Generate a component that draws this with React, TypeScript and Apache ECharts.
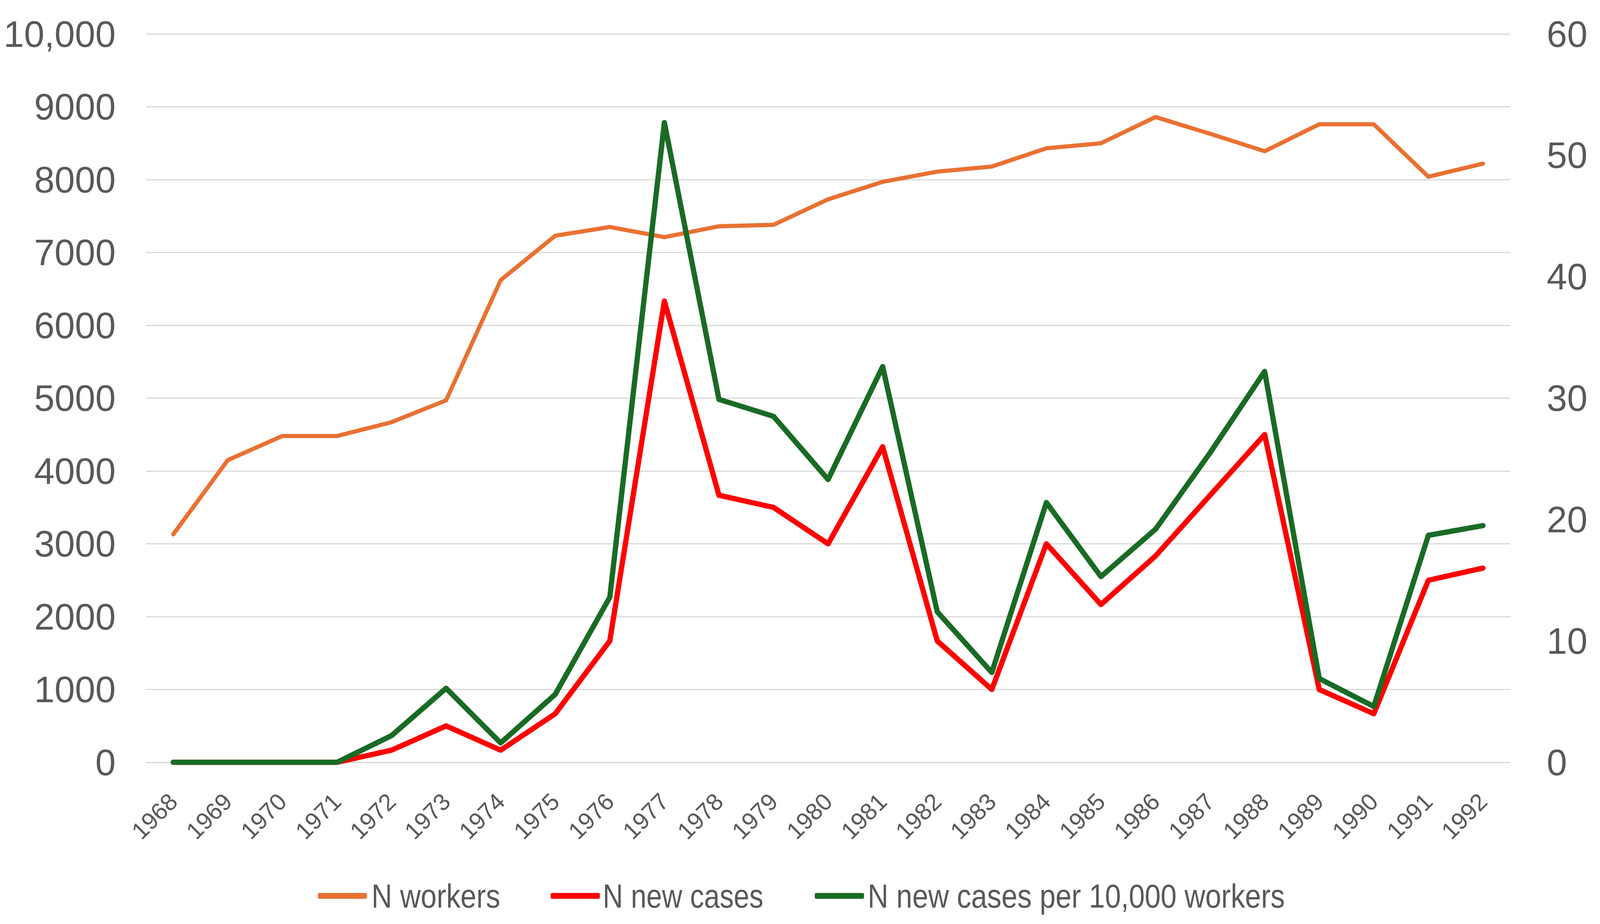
import React, { useEffect, useRef } from "react";
import * as echarts from "echarts";

const years = [
  "1968", "1969", "1970", "1971", "1972", "1973", "1974", "1975", "1976", "1977",
  "1978", "1979", "1980", "1981", "1982", "1983", "1984", "1985", "1986", "1987",
  "1988", "1989", "1990", "1991", "1992",
];
const nWorkers = [
  3130, 4150, 4480, 4480, 4670, 4970, 6620, 7230, 7350, 7210,
  7360, 7380, 7730, 7970, 8110, 8180, 8430, 8500, 8860, 8630,
  8390, 8760, 8760, 8040, 8220,
];
const nNewCases = [
  0, 0, 0, 0, 1, 3, 1, 4, 10, 38,
  22, 21, 18, 26, 10, 6, 18, 13, 17, 22,
  27, 6, 4, 15, 16,
];
const casesPer10k = [
  0, 0, 0, 0, 2.2, 6.1, 1.6, 5.6, 13.6, 52.7,
  29.9, 28.5, 23.3, 32.6, 12.4, 7.4, 21.4, 15.3, 19.2, 25.5,
  32.2, 6.9, 4.6, 18.7, 19.5,
];
const seriesNames = ["N workers", "N new cases", "N new cases per 10,000 workers"];
const seriesColors = ["#E97132", "#FF0000", "#196B24"];

// reference layout (in the reference's 4385 x 2366 pixel space)
const REF_W = 4385;
const REF_H = 2366;
const legendIconX = [871, 1509, 2233];
const legendTextX = [1018, 1652, 2378];
const legendTextW = [353, 440, 1144];

const TEXT = "#595959";
const FONT = "'Liberation Sans', Arial, sans-serif";

function measure(text: string, size: number): number {
  const c = document.createElement("canvas").getContext("2d");
  if (!c) return text.length * size * 0.5;
  c.font = `${size}px "Liberation Sans", Arial, sans-serif`;
  return c.measureText(text).width;
}

export default function App() {
  const ref = useRef<HTMLDivElement>(null);
  const W = window.innerWidth || REF_W;
  const H = window.innerHeight || REF_H;
  useEffect(() => {
    if (!ref.current) return;
    const sx = W / REF_W;
    const sy = H / REF_H;
    const fs = (sx + sy) / 2;
    const chart = echarts.init(ref.current, undefined, { renderer: "svg" });
    const lineBase = { type: "line", symbol: "none", smooth: false };

    const legendY = 2294 * sy;
    const legendFont = 86 * sy;
    const legendGraphics: any[] = [];
    seriesNames.forEach((name, i) => {
      legendGraphics.push({
        type: "rect",
        shape: { x: legendIconX[i] * sx, y: legendY - 7.5 * sy, width: 135 * sx, height: 15 * sy, r: 4 },
        style: { fill: seriesColors[i] },
      });
      const k = (legendTextW[i] * sx) / measure(name, legendFont);
      legendGraphics.push({
        type: "text",
        x: legendTextX[i] * sx,
        y: legendY,
        scaleX: k,
        style: {
          text: name,
          fontSize: legendFont,
          fontFamily: FONT,
          fill: TEXT,
          align: "left",
          verticalAlign: "middle",
        },
      });
    });

    chart.setOption({
      animation: false,
      backgroundColor: "#ffffff",
      graphic: legendGraphics,
      grid: {
        left: 400 * sx,
        right: 246 * sx,
        top: 87 * sy,
        bottom: 414 * sy,
        containLabel: false,
      },
      xAxis: {
        type: "category",
        data: years,
        boundaryGap: true,
        axisLine: { show: false },
        axisTick: { show: false },
        axisLabel: {
          rotate: 45,
          interval: 0,
          margin: 90 * sy,
          fontSize: 63 * fs,
          color: TEXT,
          fontFamily: FONT,
        },
      },
      yAxis: [
        {
          type: "value",
          min: 0,
          max: 10000,
          interval: 1000,
          position: "left",
          axisLine: { show: false },
          axisTick: { show: false },
          splitLine: { show: true, lineStyle: { color: "#D9D9D9", width: 3 } },
          axisLabel: {
            margin: 83 * sx,
            fontSize: 97 * fs,
            color: TEXT,
            fontFamily: FONT,
            formatter: (v: number) => (v >= 10000 ? "10,000" : String(v)),
          },
        },
        {
          type: "value",
          min: 0,
          max: 60,
          interval: 10,
          position: "right",
          axisLine: { show: false },
          axisTick: { show: false },
          splitLine: { show: false },
          axisLabel: { margin: 100 * sx, fontSize: 97 * fs, color: TEXT, fontFamily: FONT },
        },
      ],
      series: [
        {
          ...lineBase,
          name: seriesNames[0],
          yAxisIndex: 0,
          data: nWorkers,
          color: seriesColors[0],
          lineStyle: { color: seriesColors[0], width: 11 * fs, cap: "round", join: "round" },
        },
        {
          ...lineBase,
          name: seriesNames[1],
          yAxisIndex: 1,
          data: nNewCases,
          color: seriesColors[1],
          lineStyle: { color: seriesColors[1], width: 14 * fs, cap: "round", join: "round" },
        },
        {
          ...lineBase,
          name: seriesNames[2],
          yAxisIndex: 1,
          data: casesPer10k,
          color: seriesColors[2],
          lineStyle: { color: seriesColors[2], width: 14 * fs, cap: "round", join: "round" },
        },
      ],
    });
    return () => chart.dispose();
  }, []);
  return (
    <div
      ref={ref}
      style={{ position: "absolute", left: 0, top: 0, width: W, height: H, background: "#fff" }}
    />
  );
}
